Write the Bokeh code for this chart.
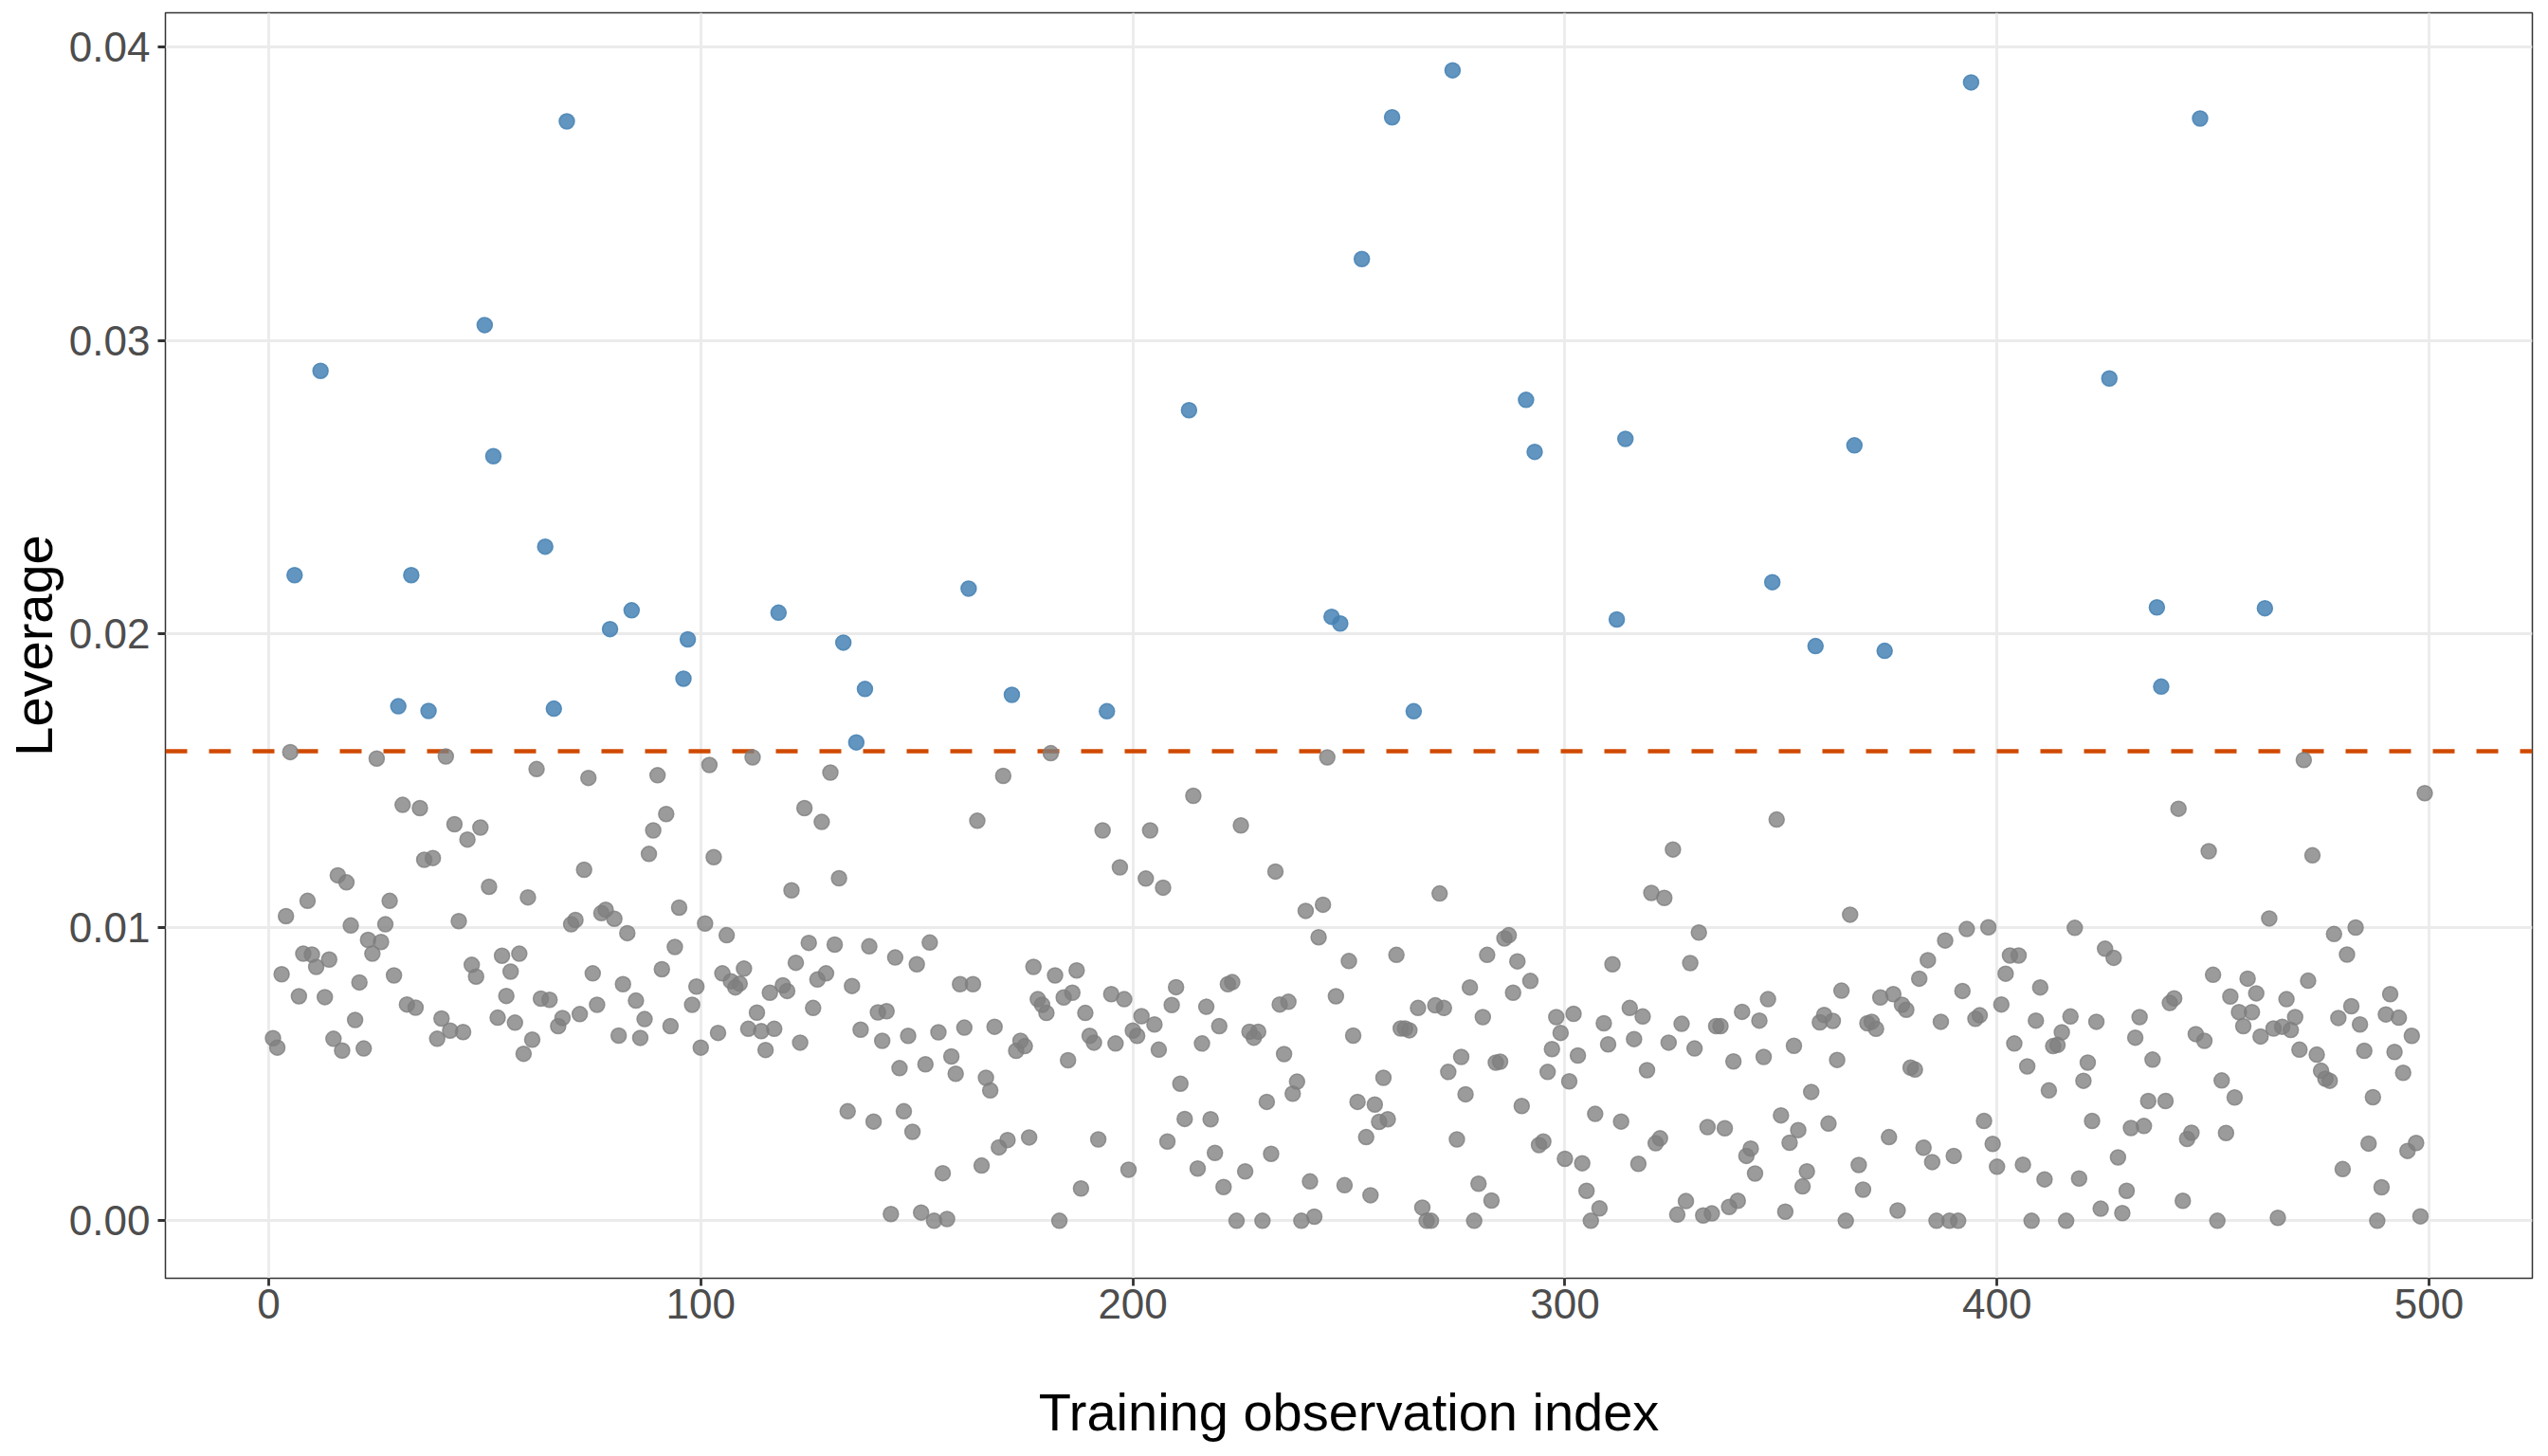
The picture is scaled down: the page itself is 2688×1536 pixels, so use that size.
from bokeh.plotting import figure
from bokeh.models import Range1d, FixedTicker, NumeralTickFormatter, Span, ColumnDataSource
from bokeh.embed import file_html
from bokeh.resources import INLINE

lev_001_100 = [0.00622, 0.0059, 0.0084, 0.01038, 0.01597, 0.0220, 0.00765, 0.0091, 0.0109, 0.00907,
               0.00865, 0.02896, 0.00762, 0.0089, 0.0062, 0.01177, 0.0058, 0.01153, 0.01006, 0.00684,
               0.00812, 0.00587, 0.00957, 0.0091, 0.01575, 0.0095, 0.0101, 0.0109, 0.00836, 0.01753,
               0.01417, 0.00737, 0.0220, 0.00726, 0.01406, 0.0123, 0.01737, 0.01236, 0.0062, 0.00689,
               0.01582, 0.00648, 0.01351, 0.01021, 0.00643, 0.01299, 0.00872, 0.00832, 0.0134, 0.03052,
               0.01138, 0.02605, 0.00692, 0.00903, 0.00766, 0.00849, 0.00675, 0.0091, 0.00569, 0.01102,
               0.00617, 0.01539, 0.00757, 0.02297, 0.00753, 0.01745, 0.00663, 0.00691, 0.03746, 0.0101,
               0.01025, 0.00704, 0.01196, 0.01509, 0.00843, 0.00736, 0.01048, 0.0106, 0.02016, 0.01029,
               0.00631, 0.00806, 0.0098, 0.0208, 0.0075, 0.00623, 0.00687, 0.0125, 0.0133, 0.01518,
               0.00857, 0.01386, 0.00663, 0.00933, 0.01067, 0.01847, 0.01981, 0.00736, 0.00798, 0.0059]

lev_101_200 = [0.01013, 0.01553, 0.01239, 0.0064, 0.00843, 0.00973, 0.00816, 0.00795, 0.00808, 0.00859,
               0.00654, 0.01579, 0.00709, 0.00646, 0.00582, 0.00777, 0.00654, 0.02072, 0.00802, 0.00783,
               0.01126, 0.00879, 0.00607, 0.01406, 0.00947, 0.00725, 0.00822, 0.01359, 0.00843, 0.01527,
               0.00941, 0.01167, 0.0197, 0.00373, 0.008, 0.0163, 0.00651, 0.01812, 0.00935, 0.00338,
               0.0071, 0.00613, 0.00714, 0.00023, 0.00897, 0.0052, 0.00373, 0.0063, 0.00303, 0.00874,
               0.00028, 0.00533, 0.00948, 0.0, 0.00642, 0.00162, 0.00006, 0.0056, 0.00501, 0.00806,
               0.00658, 0.02154, 0.00806, 0.01363, 0.00188, 0.00487, 0.00444, 0.00661, 0.0025, 0.01516,
               0.00275, 0.01792, 0.00579, 0.00613, 0.00595, 0.00284, 0.00865, 0.00755, 0.00736, 0.00708,
               0.01593, 0.00836, 0.0, 0.00761, 0.00547, 0.00777, 0.00853, 0.0011, 0.00708, 0.0063,
               0.00607, 0.00277, 0.0133, 0.01736, 0.00772, 0.00604, 0.01204, 0.00755, 0.00174, 0.00648]

lev_201_300 = [0.0063, 0.00697, 0.01166, 0.0133, 0.00669, 0.00583, 0.01135, 0.0027, 0.00735, 0.00796,
               0.00467, 0.00347, 0.02762, 0.01448, 0.00178, 0.00604, 0.00729, 0.00346, 0.00231, 0.00663,
               0.00115, 0.00806, 0.00813, 0.0, 0.01347, 0.00168, 0.00644, 0.00624, 0.00644, 0.0,
               0.00405, 0.00228, 0.0119, 0.00737, 0.00568, 0.00746, 0.00433, 0.00474, 0.0, 0.01056,
               0.00134, 0.00014, 0.00966, 0.01077, 0.01579, 0.02058, 0.00765, 0.02035, 0.00121, 0.00885,
               0.00631, 0.00405, 0.03277, 0.00285, 0.00087, 0.00396, 0.00337, 0.00487, 0.00346, 0.0376,
               0.00906, 0.00655, 0.00655, 0.00649, 0.01736, 0.00725, 0.00045, 0.0, 0.0, 0.00734,
               0.01115, 0.00725, 0.00507, 0.0392, 0.00277, 0.00558, 0.00431, 0.00795, 0.0, 0.00126,
               0.00694, 0.00906, 0.00069, 0.00539, 0.00542, 0.00962, 0.00973, 0.00777, 0.00884, 0.00391,
               0.02797, 0.00817, 0.0262, 0.00258, 0.0027, 0.00507, 0.00585, 0.00694, 0.0064, 0.00211]

lev_301_400 = [0.00475, 0.00705, 0.00563, 0.00196, 0.00102, 0.0, 0.00364, 0.00042, 0.00673, 0.00601,
               0.00874, 0.02049, 0.00338, 0.02664, 0.00725, 0.00619, 0.00194, 0.00696, 0.00513, 0.01117,
               0.00264, 0.00281, 0.011, 0.00607, 0.01265, 0.00021, 0.00671, 0.00067, 0.00878, 0.00587,
               0.00982, 0.00018, 0.00319, 0.00025, 0.00663, 0.00663, 0.00315, 0.00047, 0.00543, 0.00068,
               0.00712, 0.00221, 0.00246, 0.00161, 0.00682, 0.00558, 0.00755, 0.02176, 0.01367, 0.00359,
               0.00031, 0.00266, 0.00596, 0.00309, 0.00117, 0.00168, 0.00439, 0.01958, 0.00676, 0.00701,
               0.00331, 0.00681, 0.00548, 0.00784, 0.0, 0.01043, 0.02642, 0.0019, 0.00106, 0.00673,
               0.00678, 0.00654, 0.00761, 0.01942, 0.00285, 0.00772, 0.00035, 0.00736, 0.00719, 0.00522,
               0.00515, 0.00825, 0.00249, 0.00888, 0.002, 0.0, 0.00678, 0.00955, 0.0, 0.00221,
               0.0, 0.00783, 0.00994, 0.03879, 0.00688, 0.007, 0.0034, 0.01, 0.00262, 0.00184]

lev_401_499 = [0.00737, 0.00842, 0.00904, 0.00604, 0.00904, 0.00191, 0.00526, 0.0, 0.00682, 0.00795,
               0.00141, 0.00444, 0.00595, 0.00599, 0.00642, 0.0, 0.00696, 0.00998, 0.00144, 0.00477,
               0.00539, 0.0034, 0.00678, 0.00041, 0.00927, 0.0287, 0.00896, 0.00216, 0.00026, 0.00102,
               0.00316, 0.00624, 0.00694, 0.00323, 0.00408, 0.00549, 0.0209, 0.0182, 0.00408, 0.00742,
               0.00758, 0.01404, 0.00068, 0.00279, 0.003, 0.00636, 0.03756, 0.00613, 0.01259, 0.00838,
               0.0, 0.00478, 0.00299, 0.00764, 0.0042, 0.00711, 0.00663, 0.00825, 0.00711, 0.00775,
               0.00628, 0.02087, 0.0103, 0.00655, 0.0001, 0.00661, 0.00755, 0.0065, 0.00694, 0.00583,
               0.0157, 0.00818, 0.01245, 0.00566, 0.00511, 0.00484, 0.00477, 0.00977, 0.00691, 0.00176,
               0.00907, 0.00731, 0.00999, 0.00669, 0.00579, 0.00263, 0.00421, 0.0, 0.00114, 0.00703,
               0.00772, 0.00575, 0.00692, 0.00504, 0.00238, 0.0063, 0.00265, 0.00015, 0.01457]

threshold = 0.016
x_ticks = [0, 100, 200, 300, 400, 500]
y_ticks = [0.00, 0.01, 0.02, 0.03, 0.04]

leverage = lev_001_100 + lev_101_200 + lev_201_300 + lev_301_400 + lev_401_499
obs_index = list(range(1, len(leverage) + 1))

low_x = [i for i, v in zip(obs_index, leverage) if v <= threshold]
low_y = [v for v in leverage if v <= threshold]
high_x = [i for i, v in zip(obs_index, leverage) if v > threshold]
high_y = [v for v in leverage if v > threshold]

FONT = "Liberation Sans"

xpad = (max(obs_index) - min(obs_index)) * 0.05
ypad = (max(leverage) - 0.0) * 0.05

p = figure(width=2680, height=1528, output_backend="svg", toolbar_location=None,
           x_range=Range1d(min(obs_index) - xpad, max(obs_index) + xpad),
           y_range=Range1d(0.0 - ypad, max(leverage) + ypad),
           min_border_left=173, min_border_right=9, min_border_top=13, min_border_bottom=180)

p.background_fill_color = "white"
p.border_fill_color = "white"
p.outline_line_color = "#333333"
p.outline_line_width = 1.5

for g in (p.xgrid, p.ygrid):
    g.grid_line_color = "#EBEBEB"
    g.grid_line_width = 2.8
    g.minor_grid_line_color = None

p.xaxis.ticker = FixedTicker(ticks=x_ticks)
p.yaxis.ticker = FixedTicker(ticks=y_ticks)
p.yaxis.formatter = NumeralTickFormatter(format="0.00")

for ax in (p.xaxis, p.yaxis):
    ax.axis_line_color = None
    ax.major_tick_line_color = "#333333"
    ax.major_tick_line_width = 2.8
    ax.major_tick_out = 8
    ax.major_tick_in = 0
    ax.minor_tick_line_color = None
    ax.major_label_text_font = FONT
    ax.major_label_text_font_size = "44px"
    ax.major_label_text_color = "#4D4D4D"
    ax.axis_label_text_font = FONT
    ax.axis_label_text_font_size = "56px"
    ax.axis_label_text_font_style = "normal"
    ax.axis_label_text_color = "black"

p.xaxis.axis_label = "Training observation index"
p.yaxis.axis_label = "Leverage"
p.xaxis.major_label_standoff = 3
p.xaxis.axis_label_standoff = 64
p.yaxis.major_label_standoff = 8
p.yaxis.axis_label_standoff = 3

cutoff = Span(location=threshold, dimension="width", line_color="#D04A02",
              line_width=4.5, line_dash="23 23", level="underlay")
p.add_layout(cutoff)

low_src = ColumnDataSource(data=dict(x=low_x, y=low_y))
high_src = ColumnDataSource(data=dict(x=high_x, y=high_y))

p.scatter("x", "y", source=low_src, size=16, marker="circle",
          fill_color="#7F7F7F", fill_alpha=0.78,
          line_color="#7F7F7F", line_alpha=0.78, line_width=1.5)
p.scatter("x", "y", source=high_src, size=16, marker="circle",
          fill_color="steelblue", fill_alpha=0.85,
          line_color="steelblue", line_alpha=0.85, line_width=1.5)

open("out.html", "w").write(file_html(p, INLINE))
